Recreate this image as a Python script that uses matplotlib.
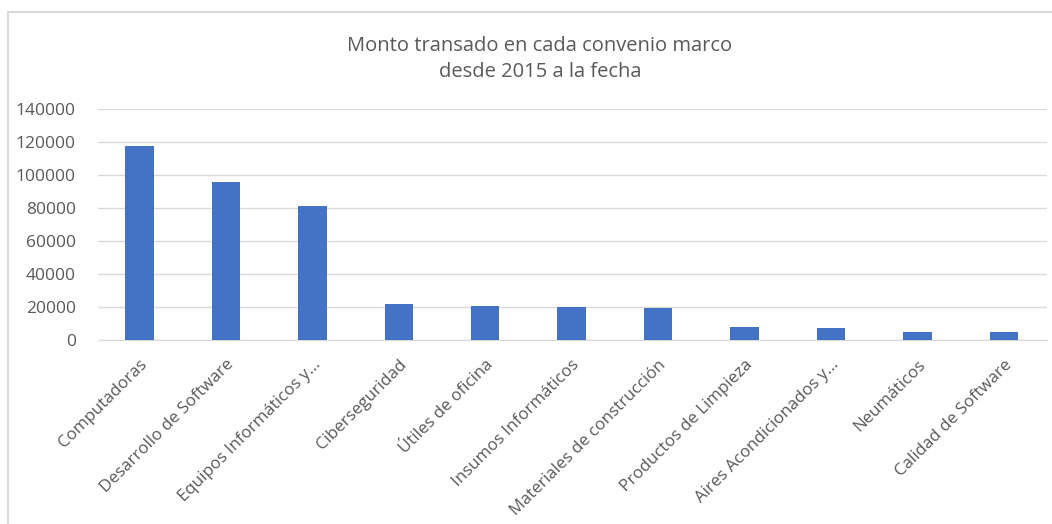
import matplotlib.pyplot as plt
from matplotlib.patches import Rectangle

# data
categorias = ["Computadoras", "Desarrollo de Software", "Equipos Informáticos y...",
              "Ciberseguridad", "Útiles de oficina", "Insumos Informáticos",
              "Materiales de construcción", "Productos de Limpieza",
              "Aires Acondicionados y...", "Neumáticos", "Calidad de Software"]
montos = [117500, 95500, 81500, 22000, 20600, 20000, 19400, 7700, 7100, 5000, 4800]
yticks = [0, 20000, 40000, 60000, 80000, 100000, 120000, 140000]

plt.rcParams['font.family'] = ['Open Sans', 'DejaVu Sans']
gris = '#595959'

fig = plt.figure(figsize=(10.52, 5.24), dpi=100)
# chart border (Excel style)
fig.patches.append(Rectangle((8/1052, -0.1), 1.2, (524-12)/524 + 0.1, transform=fig.transFigure,
                             fill=False, edgecolor='#d9d9d9', linewidth=1.5))

ax = fig.add_axes([98/1052, 184/524, (1047-98)/1052, 231/524])
x = range(len(categorias))
ax.bar(x, montos, width=0.33, color='#4472c4', zorder=3)

ax.set_ylim(0, 140000)
ax.set_xlim(-0.48, 10.5)
ax.set_yticks(yticks)
ax.set_yticklabels([str(v) for v in yticks], color=gris, fontsize=12.5)
ax.set_xticks(list(x))
ax.set_xticklabels(categorias, rotation=45, ha='right', rotation_mode='anchor',
                   color=gris, fontsize=12.2)
ax.tick_params(axis='x', length=0, pad=12)
ax.tick_params(axis='y', length=0, pad=16)
ax.grid(axis='y', color='#d9d9d9', linewidth=1, zorder=0)
for s in ['top', 'right', 'left']:
    ax.spines[s].set_visible(False)
ax.spines['bottom'].set_color('#d9d9d9')

fig.text(540/1052, 1 - 59/524, "Monto transado en cada convenio marco\ndesde 2015 a la fecha",
         ha='center', va='center', color=gris, fontsize=14.5, linespacing=1.45)

fig.savefig("out.png", dpi=100)
